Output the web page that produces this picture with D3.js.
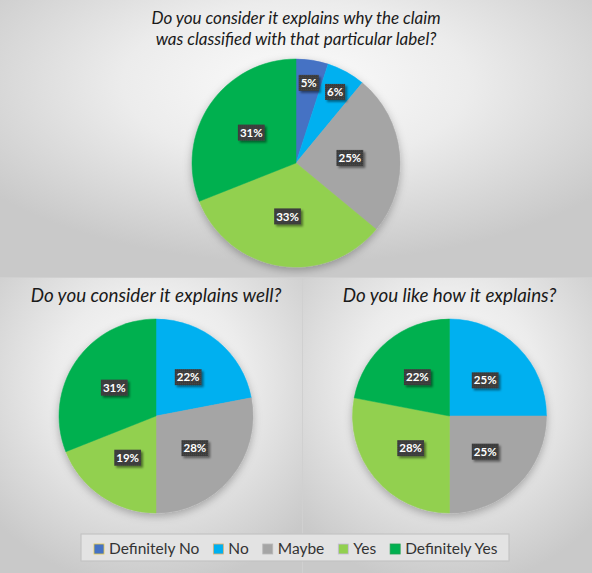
<!DOCTYPE html>
<html><head><meta charset="utf-8">
<script src="https://cdn.jsdelivr.net/npm/d3@7"></script>
<style>
html,body{margin:0;padding:0;background:#d2d2d2;}
svg{display:block;}
</style></head>
<body>
<svg id="chart" width="592" height="573"></svg>
<script>
// ---- data ----
const categories = ["Definitely No", "No", "Maybe", "Yes", "Definitely Yes"];
const titleWhy = ["Do you consider it explains why the claim", "was classified with that particular label?"];
const titleWell = ["Do you consider it explains well?"];
const titleLike = ["Do you like how it explains?"];
const valuesWhy = [5, 6, 25, 33, 31];
const valuesWell = [0, 22, 28, 19, 31];
const valuesLike = [0, 25, 25, 28, 22];

// ---- styles ----
const palette = ["#4472C4", "#00B0F0", "#A5A5A5", "#92D050", "#00B050"];
const legendBorders = ["#e6c84a", "#e0b070", "#b8b8b8", "#c8b8e0", "#20a050"];
const color = d3.scaleOrdinal().domain(categories).range(palette);
const font = "Lato, 'Open Sans', sans-serif";

const svg = d3.select("#chart");
const defs = svg.append("defs");

function radial(id, cx, cy, r) {
  const g = defs.append("radialGradient").attr("id", id)
    .attr("cx", cx).attr("cy", cy).attr("r", r);
  g.append("stop").attr("offset", "0%").attr("stop-color", "#fbfbfb");
  g.append("stop").attr("offset", "45%").attr("stop-color", "#ececec");
  g.append("stop").attr("offset", "100%").attr("stop-color", "#c9c9c9");
}
radial("bgTop", "50%", "30%", "65%");
radial("bgBL", "50%", "35%", "70%");
radial("bgBR", "50%", "35%", "70%");

const sh = defs.append("filter").attr("id", "pieShadow")
  .attr("x", "-20%").attr("y", "-20%").attr("width", "140%").attr("height", "140%");
sh.append("feDropShadow").attr("dx", 0).attr("dy", 3).attr("stdDeviation", 4)
  .attr("flood-color", "#000").attr("flood-opacity", 0.28);

const lsh = defs.append("filter").attr("id", "lblShadow")
  .attr("x", "-30%").attr("y", "-30%").attr("width", "170%").attr("height", "170%");
lsh.append("feDropShadow").attr("dx", 2).attr("dy", 2).attr("stdDeviation", 1.2)
  .attr("flood-color", "#000").attr("flood-opacity", 0.45);

const pat = defs.append("pattern").attr("id", "dots").attr("width", 2).attr("height", 2)
  .attr("patternUnits", "userSpaceOnUse");
pat.append("rect").attr("width", 2).attr("height", 2).attr("fill", "#3a3a3a");
pat.append("rect").attr("width", 1).attr("height", 1).attr("fill", "#4a4a4a");

// ---- panels ----
svg.append("rect").attr("x", 0).attr("y", 0).attr("width", 592).attr("height", 573).attr("fill", "#d0d0d0");
svg.append("rect").attr("x", 0).attr("y", 0).attr("width", 592).attr("height", 277).attr("fill", "url(#bgTop)");
svg.append("rect").attr("x", 0).attr("y", 278).attr("width", 302).attr("height", 295).attr("fill", "url(#bgBL)");
svg.append("rect").attr("x", 303).attr("y", 278).attr("width", 289).attr("height", 295).attr("fill", "url(#bgBR)");

const pie = d3.pie().sort(null).value(d => d.v);

function drawPie(values, title, cx, cy, r, titleY, titleSize) {
  const g = svg.append("g");
  g.append("text")
    .attr("x", cx).attr("y", titleY)
    .attr("text-anchor", "middle")
    .attr("font-family", font).attr("font-style", "italic")
    .attr("font-size", titleSize).attr("fill", "#1a1a1a")
    .selectAll("tspan").data(title).join("tspan")
    .attr("x", cx).attr("dy", (d, i) => i === 0 ? 0 : 21)
    .text(d => d);

  const data = pie(values.map((v, i) => ({ v, c: categories[i] })));
  const arc = d3.arc().innerRadius(0).outerRadius(r);
  const pg = g.append("g").attr("transform", `translate(${cx},${cy})`);
  pg.append("g").attr("filter", "url(#pieShadow)")
    .selectAll("path").data(data.filter(d => d.data.v > 0)).join("path")
    .attr("d", arc)
    .attr("fill", d => color(d.data.c))
    .attr("stroke", d => color(d.data.c)).attr("stroke-width", 0.5);

  const total = d3.sum(values);
  const lg = pg.append("g");
  data.filter(d => d.data.v > 0).forEach(d => {
    const frac = d.data.v / total;
    const lr = frac < 0.1 ? r * 0.78 : r * 0.52;
    const a = (d.startAngle + d.endAngle) / 2;
    const x = Math.sin(a) * lr, y = -Math.cos(a) * lr;
    const lab = lg.append("g").attr("transform", `translate(${x},${y})`);
    const t = lab.append("text")
      .attr("text-anchor", "middle").attr("dy", "0.36em")
      .attr("font-family", font).attr("font-weight", "bold")
      .attr("font-size", 11.5).attr("fill", "#ffffff")
      .text(d.data.v + "%");
    const bb = t.node().getBBox();
    lab.insert("rect", "text")
      .attr("x", bb.x - 2).attr("y", -8).attr("width", bb.width + 4).attr("height", 16)
      .attr("fill", "url(#dots)").attr("filter", "url(#lblShadow)");
  });
}

drawPie(valuesWhy, titleWhy, 296, 163, 104, 24, 17);
drawPie(valuesWell, titleWell, 156, 416, 97, 302, 18.8);
drawPie(valuesLike, titleLike, 449.5, 416, 97, 302, 18.8);

// ---- legend ----
const leg = svg.append("g");
leg.append("rect").attr("x", 81).attr("y", 534).attr("width", 428).attr("height", 27)
  .attr("fill", "#e3e3e3").attr("stroke", "#c4c4c4").attr("stroke-width", 1.2);
let lx = 94;
const items = leg.selectAll("g.item").data(categories).join("g").attr("class", "item");
items.each(function(c, i) {
  const it = d3.select(this);
  it.append("rect").attr("x", lx).attr("y", 544).attr("width", 10).attr("height", 10)
    .attr("fill", color(c)).attr("stroke", legendBorders[i]).attr("stroke-width", 0.8);
  const t = it.append("text").attr("x", lx + 15).attr("y", 554)
    .attr("font-family", font).attr("font-size", 15.5).attr("fill", "#333")
    .text(c);
  lx += 15 + t.node().getComputedTextLength() + 14;
});
</script>
</body></html>
